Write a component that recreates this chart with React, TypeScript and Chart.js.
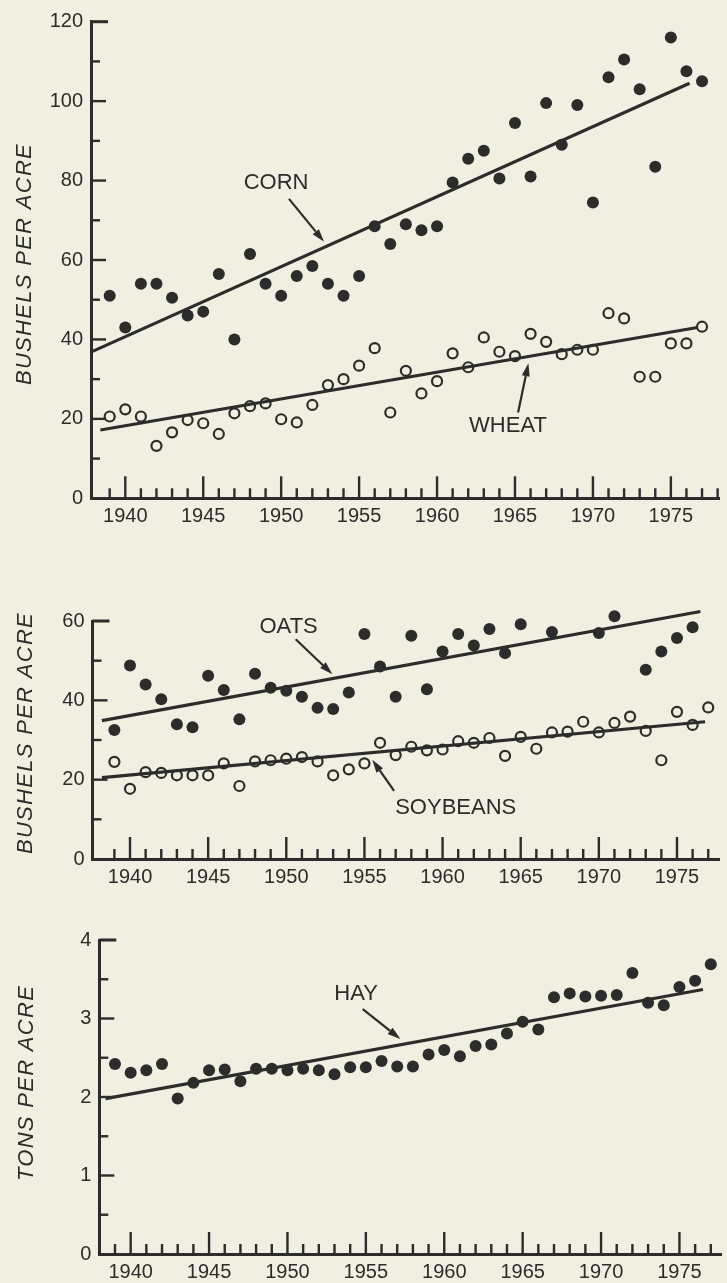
import React, { useEffect, useRef } from "react";
import { Chart, registerables } from "chart.js";

Chart.register(...registerables);

// ---------------- data ----------------
const YEARS = [
  1939, 1940, 1941, 1942, 1943, 1944, 1945, 1946, 1947, 1948,
  1949, 1950, 1951, 1952, 1953, 1954, 1955, 1956, 1957, 1958,
  1959, 1960, 1961, 1962, 1963, 1964, 1965, 1966, 1967, 1968,
  1969, 1970, 1971, 1972, 1973, 1974, 1975, 1976, 1977,
];

const CORN = [
  51, 43, 54, 54, 50.5, 46, 47, 56.5, 40, 61.5,
  54, 51, 56, 58.5, 54, 51, 56, 68.5, 64, 69,
  67.5, 68.5, 79.5, 85.5, 87.5, 80.5, 94.5, 81, 99.5, 89,
  99, 74.5, 106, 110.5, 103, 83.5, 116, 107.5, 105,
];
const WHEAT = [
  20.6, 22.4, 20.6, 13.2, 16.6, 19.7, 18.9, 16.2, 21.4, 23.2,
  23.9, 19.9, 19.1, 23.5, 28.5, 30.0, 33.4, 37.8, 21.6, 32.1,
  26.4, 29.5, 36.5, 33.0, 40.5, 36.9, 35.8, 41.4, 39.4, 36.3,
  37.4, 37.4, 46.6, 45.3, 30.6, 30.6, 39.0, 39.0, 43.2,
];
const OATS = [
  32.5, 48.8, 44.0, 40.3, 34.0, 33.2, 46.2, 42.6, 35.2, 46.7,
  43.2, 42.4, 40.9, 38.1, 37.8, 42.0, 56.7, 48.5, 40.9, 56.3,
  42.8, 52.3, 56.7, 53.8, 58.0, 51.9, 59.2, 61.8, 57.2, 68.1,
  63.5, 57.0, 61.2, 64.1, 47.7, 52.3, 55.7, 58.4, 62.9,
];
const SOYBEANS = [
  24.5, 17.7, 21.9, 21.7, 21.1, 21.1, 21.1, 24.1, 18.4, 24.6,
  24.9, 25.3, 25.7, 24.6, 21.1, 22.6, 24.1, 29.3, 26.2, 28.3,
  27.4, 27.6, 29.7, 29.3, 30.5, 26.0, 30.8, 27.8, 31.9, 32.1,
  34.6, 31.9, 34.3, 35.9, 32.3, 24.9, 37.1, 33.8, 38.2,
];
const HAY = [
  2.42, 2.31, 2.34, 2.42, 1.98, 2.18, 2.34, 2.35, 2.20, 2.36,
  2.36, 2.34, 2.36, 2.34, 2.29, 2.38, 2.38, 2.46, 2.39, 2.39,
  2.54, 2.60, 2.52, 2.65, 2.67, 2.81, 2.96, 2.86, 3.27, 3.32,
  3.28, 3.29, 3.30, 3.58, 3.20, 3.17, 3.40, 3.48, 3.69,
];

// trend lines: [start year, end year] and [start value, end value]
const CORN_TREND_X = [1937.9, 1976.2];
const CORN_TREND_Y = [37, 104.5];
const WHEAT_TREND_X = [1938.4, 1976.7];
const WHEAT_TREND_Y = [17.2, 43.0];
const OATS_TREND_X = [1938.2, 1976.5];
const OATS_TREND_Y = [34.9, 62.4];
const SOY_TREND_X = [1938.2, 1976.8];
const SOY_TREND_Y = [20.5, 34.6];
const HAY_TREND_X = [1938.4, 1976.5];
const HAY_TREND_Y = [1.98, 3.37];

// axis tick labels
const X_TICK_LABELS = [1940, 1945, 1950, 1955, 1960, 1965, 1970, 1975];
const Y_TICKS_TOP = [0, 20, 40, 60, 80, 100, 120];
const Y_TICKS_MID = [0, 20, 40, 60];
const Y_TICKS_BOTTOM = [0, 1, 2, 3, 4];

// ---------------- style ----------------
const INK = "#2c2c2a";
const PAPER = "#f0efe2";
const FONT = "'Liberation Sans', Arial, sans-serif";

type Note = {
  text: string;
  tx: number; ty: number; // label centre (data coords)
  ax: number; ay: number; // arrow tail
  bx: number; by: number; // arrow head
};

type Panel = {
  top: number;
  height: number;
  areaLeft: number;
  areaTop: number;
  areaBottom: number;
  xMin: number;
  xMax: number;
  yMax: number;
  yTicks: number[];
  minorStep: number;
  title: string;
  titleX: number;
  titleY: number;
  notes: Note[];
  datasets: any[];
};

const pts = (vals: number[]) => YEARS.map((yr, i) => ({ x: yr, y: vals[i] }));
const trend = (xs: number[], ys: number[]) => xs.map((x, i) => ({ x, y: ys[i] }));

const filled = (label: string, vals: number[]) => ({
  type: "scatter",
  label,
  data: pts(vals),
  pointRadius: 6,
  pointBackgroundColor: INK,
  pointBorderColor: INK,
  pointBorderWidth: 0,
  clip: false,
  order: 1,
});
const hollow = (label: string, vals: number[]) => ({
  type: "scatter",
  label,
  data: pts(vals),
  pointRadius: 5,
  pointBackgroundColor: "rgba(0,0,0,0)",
  pointBorderColor: INK,
  pointBorderWidth: 2.2,
  clip: false,
  order: 1,
});
const line = (label: string, xs: number[], ys: number[]) => ({
  type: "line",
  label,
  data: trend(xs, ys),
  borderColor: INK,
  borderWidth: 3.2,
  pointRadius: 0,
  fill: false,
  tension: 0,
  clip: false,
  order: 2,
});

const PANELS: Panel[] = [
  {
    top: 0,
    height: 540,
    areaLeft: 91,
    areaTop: 21.7,
    areaBottom: 498.3,
    xMin: 1937.8,
    xMax: 1978.14,
    yMax: 120,
    yTicks: Y_TICKS_TOP,
    minorStep: 10,
    title: "BUSHELS PER ACRE",
    titleX: 25,
    titleY: 264,
    notes: [
      { text: "CORN", tx: 1949.67, ty: 79.3, ax: 1950.5, ay: 75.4, bx: 1952.75, by: 64.6 },
      { text: "WHEAT", tx: 1964.55, ty: 18.2, ax: 1965.2, ay: 21.6, bx: 1965.86, by: 34.0 },
    ],
    datasets: [
      line("Corn trend", CORN_TREND_X, CORN_TREND_Y),
      line("Wheat trend", WHEAT_TREND_X, WHEAT_TREND_Y),
      filled("Corn", CORN),
      hollow("Wheat", WHEAT),
    ],
  },
  {
    top: 560,
    height: 340,
    areaLeft: 92.5,
    areaTop: 61,
    areaBottom: 299,
    xMin: 1937.6,
    xMax: 1977.74,
    yMax: 60,
    yTicks: Y_TICKS_MID,
    minorStep: 10,
    title: "BUSHELS PER ACRE",
    titleX: 26,
    titleY: 173,
    notes: [
      { text: "OATS", tx: 1950.15, ty: 58.5, ax: 1950.6, ay: 55.4, bx: 1952.95, by: 46.6 },
      { text: "SOYBEANS", tx: 1960.84, ty: 12.8, ax: 1956.9, ay: 17.2, bx: 1955.5, by: 25.0 },
    ],
    datasets: [
      line("Oats trend", OATS_TREND_X, OATS_TREND_Y),
      line("Soybeans trend", SOY_TREND_X, SOY_TREND_Y),
      filled("Oats", OATS),
      hollow("Soybeans", SOYBEANS),
    ],
  },
  {
    top: 900,
    height: 383,
    areaLeft: 99.3,
    areaTop: 40,
    areaBottom: 354,
    xMin: 1938.0,
    xMax: 1977.65,
    yMax: 4,
    yTicks: Y_TICKS_BOTTOM,
    minorStep: 0.5,
    title: "TONS PER ACRE",
    titleX: 27,
    titleY: 183,
    notes: [
      { text: "HAY", tx: 1954.38, ty: 3.31, ax: 1954.8, ay: 3.12, bx: 1957.2, by: 2.74 },
    ],
    datasets: [
      line("Hay trend", HAY_TREND_X, HAY_TREND_Y),
      filled("Hay", HAY),
    ],
  },
];

function drawArrow(ctx: CanvasRenderingContext2D, x1: number, y1: number, x2: number, y2: number) {
  const ang = Math.atan2(y2 - y1, x2 - x1);
  const len = 13;
  const half = 4;
  const bx = x2 - len * Math.cos(ang);
  const by = y2 - len * Math.sin(ang);
  ctx.beginPath();
  ctx.moveTo(x1, y1);
  ctx.lineTo(bx, by);
  ctx.lineWidth = 2.2;
  ctx.stroke();
  ctx.beginPath();
  ctx.moveTo(x2, y2);
  ctx.lineTo(bx + half * Math.sin(ang), by - half * Math.cos(ang));
  ctx.lineTo(bx - half * Math.sin(ang), by + half * Math.cos(ang));
  ctx.closePath();
  ctx.fill();
}

function makeDecor(p: Panel) {
  return {
    id: "decor",
    afterDatasetsDraw(chart: any) {
      const { ctx, chartArea } = chart;
      const xs = chart.scales.x;
      const ys = chart.scales.y;
      ctx.save();
      ctx.strokeStyle = INK;
      ctx.fillStyle = INK;
      ctx.lineCap = "butt";
      // x ticks (every year, long every 5 years), drawn upward from the axis
      ctx.lineWidth = 2.4;
      for (let yr = Math.ceil(xs.min + 0.5); yr <= Math.floor(xs.max); yr++) {
        const px = xs.getPixelForValue(yr);
        const len = yr % 5 === 0 ? 22 : 10;
        ctx.beginPath();
        ctx.moveTo(px, chartArea.bottom);
        ctx.lineTo(px, chartArea.bottom - len);
        ctx.stroke();
      }
      // y ticks, drawn rightward from the axis
      const n = Math.round(p.yMax / p.minorStep);
      for (let i = 1; i <= n; i++) {
        const v = i * p.minorStep;
        const py = ys.getPixelForValue(v);
        const isTop = i === n;
        const isMajor = p.yTicks.includes(v);
        const len = isTop ? 17 : isMajor ? 15 : 9;
        ctx.lineWidth = isTop ? 3 : 2.4;
        ctx.beginPath();
        ctx.moveTo(chartArea.left, py);
        ctx.lineTo(chartArea.left + len, py);
        ctx.stroke();
      }
      // labels with arrows
      ctx.font = `22px ${FONT}`;
      ctx.textAlign = "center";
      ctx.textBaseline = "middle";
      for (const note of p.notes) {
        ctx.fillText(note.text, xs.getPixelForValue(note.tx), ys.getPixelForValue(note.ty));
        drawArrow(
          ctx,
          xs.getPixelForValue(note.ax),
          ys.getPixelForValue(note.ay),
          xs.getPixelForValue(note.bx),
          ys.getPixelForValue(note.by)
        );
      }
      // axis title
      ctx.translate(p.titleX, p.titleY);
      ctx.rotate(-Math.PI / 2);
      ctx.font = `italic 22px ${FONT}`;
      (ctx as any).letterSpacing = "1.3px";
      ctx.fillText(p.title, 0, 0);
      ctx.restore();
    },
  };
}

function PanelChart({ p }: { p: Panel }) {
  const ref = useRef<HTMLCanvasElement | null>(null);
  useEffect(() => {
    if (!ref.current) return;
    const chart = new Chart(ref.current, {
      type: "scatter",
      data: { datasets: p.datasets as any },
      options: {
        animation: false,
        responsive: false,
        maintainAspectRatio: false,
        devicePixelRatio: 1,
        layout: { padding: { top: p.areaTop, left: 0, right: 0, bottom: 0 } },
        plugins: { legend: { display: false }, tooltip: { enabled: false } },
        scales: {
          x: {
            type: "linear",
            min: p.xMin,
            max: p.xMax,
            grid: { display: false, drawTicks: false },
            border: { display: true, color: INK, width: 3 },
            afterBuildTicks: (s: any) => {
              s.ticks = X_TICK_LABELS.map((v) => ({ value: v }));
            },
            afterFit: (s: any) => {
              s.height = p.height - p.areaBottom;
            },
            ticks: {
              autoSkip: false,
              maxRotation: 0,
              padding: 6,
              color: INK,
              font: { family: FONT, size: 20 },
              callback: (v: any) => String(v),
            },
          },
          y: {
            type: "linear",
            min: 0,
            max: p.yMax,
            grid: { display: false, drawTicks: false },
            border: { display: true, color: INK, width: 3 },
            afterBuildTicks: (s: any) => {
              s.ticks = p.yTicks.map((v) => ({ value: v }));
            },
            afterFit: (s: any) => {
              s.width = p.areaLeft;
            },
            ticks: {
              autoSkip: false,
              padding: 8,
              color: INK,
              font: { family: FONT, size: 20 },
              callback: (v: any) => String(v),
            },
          },
        },
      } as any,
      plugins: [makeDecor(p)],
    });
    return () => chart.destroy();
  }, [p]);
  return (
    <canvas
      ref={ref}
      width={727}
      height={p.height}
      style={{ position: "absolute", left: 0, top: p.top, width: 727, height: p.height }}
    />
  );
}

export default function App() {
  return (
    <div
      style={{
        position: "absolute",
        left: 0,
        top: 0,
        width: 727,
        height: 1283,
        background: PAPER,
        overflow: "hidden",
      }}
    >
      {PANELS.map((p, i) => (
        <PanelChart key={i} p={p} />
      ))}
    </div>
  );
}
